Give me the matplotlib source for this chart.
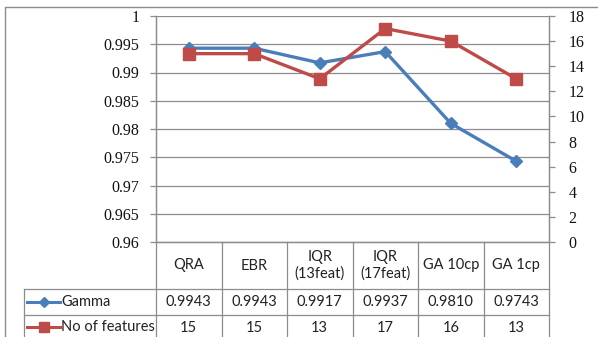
import matplotlib
matplotlib.use("Agg")
import matplotlib.pyplot as plt
from matplotlib.lines import Line2D

categories = ["QRA", "EBR", "IQR\n(13feat)", "IQR\n(17feat)", "GA 10cp", "GA 1cp"]
gamma = [0.9943, 0.9943, 0.9917, 0.9937, 0.9810, 0.9743]
n_features = [15, 15, 13, 17, 16, 13]
series_names = ["Gamma", "No of features"]
gamma_labels = ["0.9943", "0.9943", "0.9917", "0.9937", "0.9810", "0.9743"]

BLUE = "#4A7EBB"
RED = "#BE4B48"
GRID = "#8C8C8C"
W, H = 598, 337

fig = plt.figure(figsize=(W / 100, H / 100), dpi=100)
fig.patch.set_facecolor("white")

# plot area in pixel coordinates
px_l, px_r, px_t, px_b = 156, 549, 16, 242

def fx(x):
    return x / W

def fy(y):
    return 1 - y / H

ax = fig.add_axes([fx(px_l), fy(px_b), fx(px_r) - fx(px_l), fy(px_t) - fy(px_b)])
ax2 = ax.twinx()

x = list(range(len(categories)))
ax.plot(x, gamma, color=BLUE, lw=2.4, marker="D", ms=6.5, mfc=BLUE, mec=BLUE, zorder=3)
ax2.plot(x, n_features, color=RED, lw=2.4, marker="s", ms=8, mfc=RED, mec=RED, zorder=3)

ax.set_xlim(-0.5, len(categories) - 0.5)
ax.set_ylim(0.96, 1.0)
ax2.set_ylim(0, 18)

left_ticks = [0.96 + 0.005 * i for i in range(9)]
ax.set_yticks(left_ticks)
ax.set_yticklabels([f"{v:.3f}".rstrip("0").rstrip(".") for v in left_ticks])
ax2.set_yticks(range(0, 19, 2))
ax.set_xticks([])

serif = "Liberation Serif"
ax.tick_params(axis="y", direction="out", length=4, width=0.9, color=GRID,
               labelsize=11.5, pad=8, labelcolor="#111111")
ax2.tick_params(axis="y", direction="out", length=4, width=0.9, color=GRID,
                labelsize=11.5, pad=10, labelcolor="#111111")
for lab in ax.get_yticklabels() + ax2.get_yticklabels():
    lab.set_fontfamily(serif)

ax.grid(axis="y", color=GRID, lw=0.9)
ax.set_axisbelow(True)
for a in (ax, ax2):
    a.spines["top"].set_visible(False)
    for s in ("left", "right", "bottom"):
        a.spines[s].set_color(GRID)
        a.spines[s].set_linewidth(0.9)
    a.patch.set_visible(False)

# data table and chart frame drawn on an overlay in pixel coordinates
ov = fig.add_axes([0, 0, 1, 1], zorder=-1)
ov.set_xlim(0, W)
ov.set_ylim(H, 0)
ov.axis("off")

# chart border
ov.plot([5, 5, W + 5], [H + 5, 7, 7], color=GRID, lw=1.0)

col_w = (px_r - px_l) / len(categories)
row_hdr_b, row1_b, row2_b = 289, 315, 341
leg_l = 24

# vertical lines
for i in range(len(categories) + 1):
    xx = px_l + i * col_w
    ov.plot([xx, xx], [px_b, row2_b], color=GRID, lw=0.9)
ov.plot([leg_l, leg_l], [row_hdr_b, row2_b], color=GRID, lw=0.9)
# horizontal lines
for yy in (row_hdr_b, row1_b):
    ov.plot([leg_l, px_r], [yy, yy], color=GRID, lw=0.9)

tfont = dict(family="Lato", fontsize=10.5, color="#222222", ha="center", va="center")
for i, c in enumerate(categories):
    cx = px_l + (i + 0.5) * col_w
    ov.text(cx, (px_b + row_hdr_b) / 2, c, linespacing=1.25, **tfont)
    ov.text(cx, (row_hdr_b + row1_b) / 2 + 0.5, gamma_labels[i], **tfont)
    ov.text(cx, (row1_b + row2_b) / 2 - 0.5, str(n_features[i]), **tfont)

# legend keys
for yc, col, mk, ms, name in [((row_hdr_b + row1_b) / 2, BLUE, "D", 5, series_names[0]),
                              ((row1_b + row2_b) / 2 - 1, RED, "s", 7, series_names[1])]:
    ov.add_line(Line2D([27, 60], [yc, yc], color=col, lw=2.2))
    ov.add_line(Line2D([43.5], [yc], color=col, marker=mk, ms=ms, mfc=col, mec=col))
    ov.text(61, yc, name, family="Lato", fontsize=10.5, color="#222222", ha="left", va="center")

fig.savefig("out.png", dpi=100, facecolor="white")
